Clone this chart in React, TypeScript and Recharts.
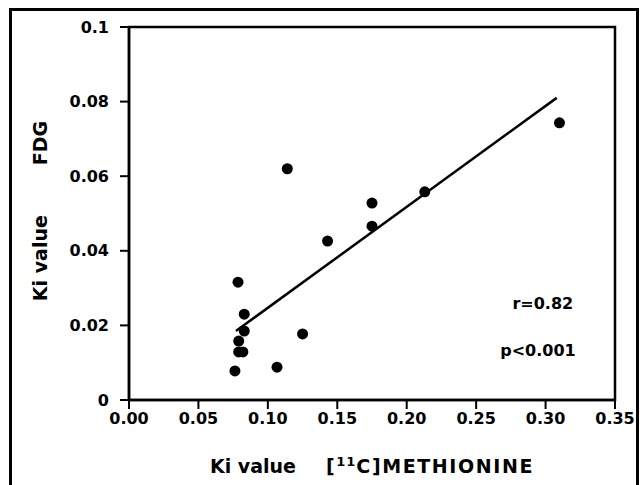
import React from 'react';
import {
  ReferenceArea,
  ReferenceDot,
  Scatter,
  ScatterChart,
  XAxis,
  YAxis,
} from 'recharts';

// Ki values, [11C]methionine (x) vs FDG (y)
const methionineKi = [0.0785, 0.083, 0.083, 0.079, 0.079, 0.082, 0.0763, 0.1066, 0.125, 0.114, 0.143, 0.175, 0.175, 0.213, 0.31];
const fdgKi = [0.0316, 0.023, 0.0185, 0.0158, 0.0129, 0.0129, 0.0078, 0.0088, 0.0177, 0.062, 0.0426, 0.0528, 0.0466, 0.0558, 0.0743];

// regression line end points
const fitX = [0.077, 0.308];
const fitY = [0.0185, 0.081];

const xTicks = [0, 0.05, 0.1, 0.15, 0.2, 0.25, 0.3, 0.35];
const yTicks = [0, 0.02, 0.04, 0.06, 0.08, 0.1];

const stats = [
  { x: 0.298, y: 0.026, text: 'r=0.82' },
  { x: 0.2945, y: 0.0134, text: 'p<0.001' },
];

const points = methionineKi.map((x, i) => ({ x, y: fdgKi[i] }));
const fitLine = fitX.map((x, i) => ({ x, y: fitY[i] }));

const FONT = '"DejaVu Sans", Arial, sans-serif';
const tickStyle = { fill: '#000', fontSize: 16, fontWeight: 'bold', fontFamily: FONT };

const fmtY = (v: number) => (v === 0 ? '0' : v === 0.1 ? '0.1' : v.toFixed(2));

const Dot = (props: any) => {
  const { cx, cy } = props;
  if (cx == null || cy == null) return null;
  return <circle cx={cx} cy={cy} r={5.5} fill="#000" />;
};

const NoShape = () => null;

const XTitle = (props: any) => {
  const vb = props.viewBox || {};
  const cx = vb.x + vb.width / 2;
  return (
    <text x={cx} y={vb.y + 73} textAnchor="middle" fontFamily={FONT} fontWeight="bold" fontSize={19} fill="#000">
      <tspan>Ki value</tspan>
      <tspan dx={30} letterSpacing={1.6}>[</tspan>
      <tspan dy={-7} fontSize={13} letterSpacing={1}>11</tspan>
      <tspan dy={7} letterSpacing={1.6}>C]METHIONINE</tspan>
    </text>
  );
};

const YTitle = () => {
  const x = 47;
  const y = 211;
  return (
    <text
      x={x}
      y={y}
      transform={`rotate(-90, ${x}, ${y})`}
      textAnchor="middle"
      fontFamily={FONT}
      fontWeight="bold"
      fontSize={19}
      fill="#000"
    >
      <tspan>Ki value</tspan>
      <tspan dx={50}>FDG</tspan>
    </text>
  );
};

const statLabel = (text: string) => (props: any) => {
  const vb = props.viewBox || {};
  const cx = vb.cx ?? vb.x;
  const cy = vb.cy ?? vb.y;
  return (
    <text x={cx} y={cy + 6} textAnchor="middle" fontFamily={FONT} fontWeight="bold" fontSize={16} fill="#000">
      {text}
    </text>
  );
};

export default function App() {
  return (
    <div style={{ position: 'absolute', left: 0, top: 0, width: 643, height: 485, background: '#fff', overflow: 'hidden' }}>
      <div
        style={{
          position: 'absolute',
          left: 9,
          top: 8,
          width: 624,
          height: 500,
          borderLeft: '3px solid #000',
          borderTop: '3px solid #000',
          borderRight: '3px solid #000',
        }}
      />
      <div style={{ position: 'absolute', left: 0, top: 0 }}>
        <ScatterChart width={643} height={485} margin={{ top: 27, right: 28, bottom: 0, left: 0 }}>
          <XAxis
            type="number"
            dataKey="x"
            domain={[0, 0.35]}
            ticks={xTicks}
            tickFormatter={(v: number) => v.toFixed(2)}
            height={85}
            tick={tickStyle}
            tickSize={9}
            tickMargin={4}
            axisLine={{ stroke: '#000', strokeWidth: 2.5 }}
            tickLine={{ stroke: '#000', strokeWidth: 2 }}
            allowDataOverflow
            label={{ content: XTitle }}
          />
          <YAxis
            type="number"
            dataKey="y"
            domain={[0, 0.1]}
            ticks={yTicks}
            tickFormatter={fmtY}
            width={129}
            tick={tickStyle}
            tickSize={9}
            tickMargin={11}
            axisLine={{ stroke: '#000', strokeWidth: 2.5 }}
            tickLine={{ stroke: '#000', strokeWidth: 2 }}
            allowDataOverflow
            label={{ content: YTitle }}
          />
          <ReferenceArea x1={0} x2={0.35} y1={0} y2={0.1} fill="none" stroke="#000" strokeWidth={2.5} ifOverflow="visible" />
          <Scatter
            data={fitLine}
            line={{ stroke: '#000', strokeWidth: 2.5 }}
            shape={NoShape}
            isAnimationActive={false}
          />
          <Scatter data={points} shape={Dot} isAnimationActive={false} />
          {stats.map((s) => (
            <ReferenceDot
              key={s.text}
              x={s.x}
              y={s.y}
              r={0}
              fill="none"
              stroke="none"
              label={{ content: statLabel(s.text) }}
            />
          ))}
        </ScatterChart>
      </div>
    </div>
  );
}
